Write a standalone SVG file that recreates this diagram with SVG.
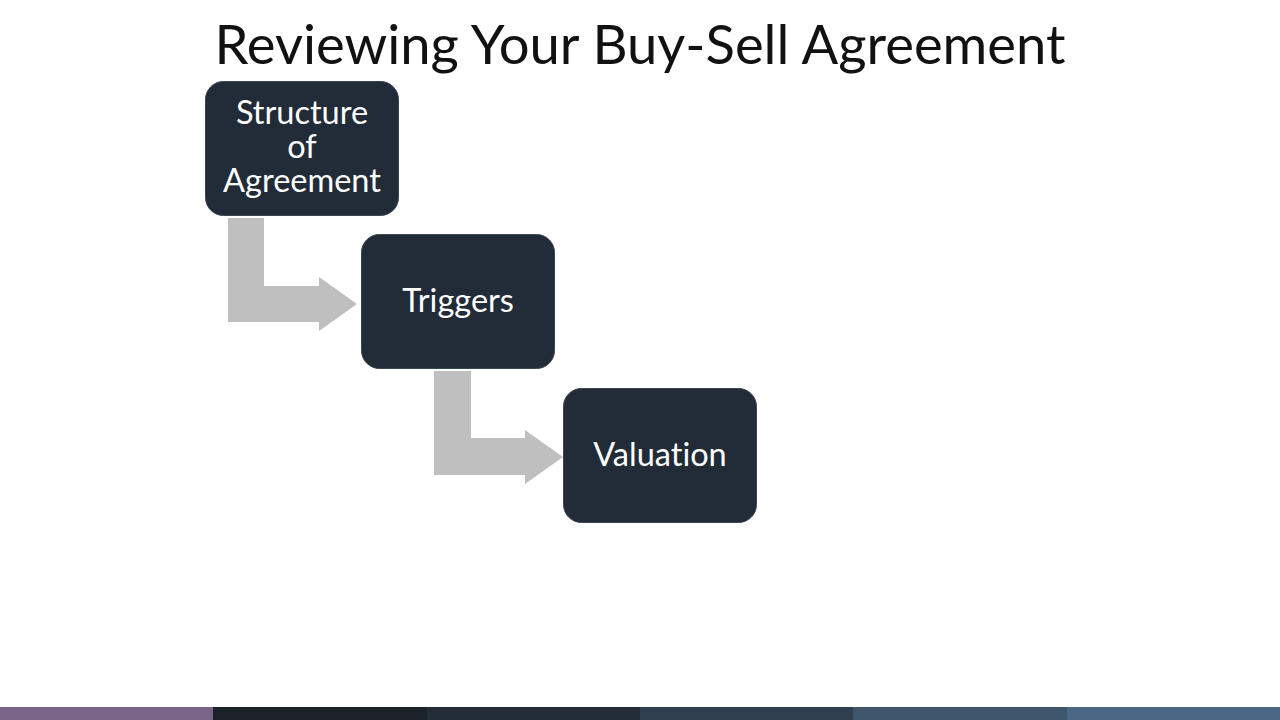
<svg xmlns="http://www.w3.org/2000/svg" width="1280" height="720" viewBox="0 0 1280 720">
<style>
.node{fill:#212c38;stroke:#3a4552;stroke-width:1}
.lbl{font-family:Lato,"Liberation Sans",sans-serif;font-size:32.5px;fill:#ffffff;text-anchor:middle;font-variant-ligatures:none}
.arrow{fill:#bfbfbf}
.title{font-family:Lato,"Liberation Sans",sans-serif;font-size:54.4px;fill:#111111;text-anchor:middle;font-variant-ligatures:none}
</style>
<rect width="1280" height="720" fill="#ffffff"/>
<text class="title" x="640" y="64">Reviewing Your Buy-Sell Agreement</text>
<g id="connectors">
<path class="arrow" d="M228,218 H264 V286 H319 V277 L357,304 L319,331 V322 H228 Z"/>
<path class="arrow" d="M434,371 H471 V438 H525 V430 L563,457 L525,484 V475 H434 Z"/>
</g>
<g id="node-structure">
<rect class="node" x="205.5" y="81.5" width="193" height="134" rx="18"/>
<text class="lbl" x="302" y="124">Structure</text>
<text class="lbl" x="302" y="158">of</text>
<text class="lbl" x="302" y="192">Agreement</text>
</g>
<g id="node-triggers">
<rect class="node" x="361.5" y="234.5" width="193" height="134" rx="18"/>
<text class="lbl" x="458" y="312">Triggers</text>
</g>
<g id="node-valuation">
<rect class="node" x="563.5" y="388.5" width="193" height="134" rx="18"/>
<text class="lbl" x="660" y="466">Valuation</text>
</g>
<g id="footer">
<rect x="0" y="707" width="213" height="13" fill="#7a6488"/>
<rect x="213" y="707" width="214" height="13" fill="#1c2228"/>
<rect x="427" y="707" width="213" height="13" fill="#222d38"/>
<rect x="640" y="707" width="213" height="13" fill="#2f3f50"/>
<rect x="853" y="707" width="214" height="13" fill="#3e556b"/>
<rect x="1067" y="707" width="213" height="13" fill="#4a6785"/>
</g>
</svg>
